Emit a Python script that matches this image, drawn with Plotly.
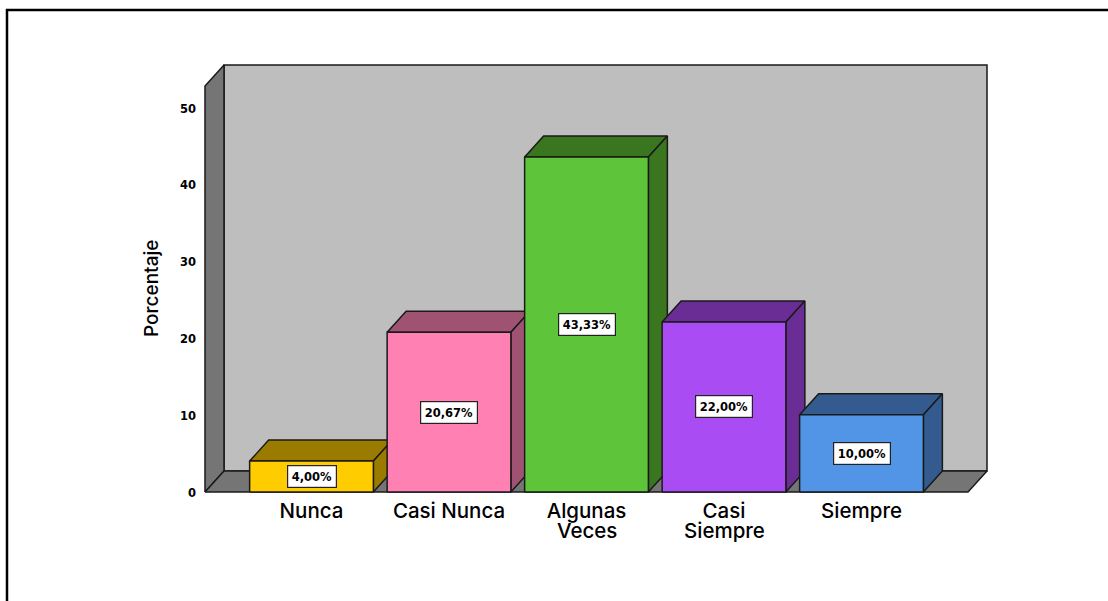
import plotly.graph_objects as go

category_first_line = ["Nunca", "Casi Nunca", "Algunas", "Casi", "Siempre"]
category_second_line = ["", "", "Veces", "Siempre", ""]
values = [4.00, 20.67, 43.33, 22.00, 10.00]
labels = ["4,00%", "20,67%", "43,33%", "22,00%", "10,00%"]
front_colors = ["#FFCC00", "#FF80B3", "#5EC53A", "#AA4CF3", "#5294E6"]
shade_colors = ["#9A7B00", "#A05272", "#3A7620", "#6A2D96", "#335B90"]
y_ticks = [0, 10, 20, 30, 40, 50]

# Chart box in page pixels (L..R, T..B) and a small pad so edge lines are not clipped
L, R, T, B = 205, 987, 65, 492
PAD = 3
PX_PER_CAT = 137.5
PX_PER_UNIT = 7.73      # scale of the bars in the picture
TICK_PX_PER_UNIT = 7.68 # scale of the printed tick labels in the picture
TICK_ZERO_PX = 492.5
X0_PX = 311.5
BAR_W = 0.9
DX = 19 / PX_PER_CAT
DY = 21 / PX_PER_UNIT
XMIN = (L - X0_PX) / PX_PER_CAT
XMAX = (R - X0_PX) / PX_PER_CAT
YMAX = (B - T) / PX_PER_UNIT
FRONT_XMAX = XMAX - DX
FRONT_YMAX = YMAX - DY
EDGE = "#1a1a1a"
PL, PR, PT, PB = L - PAD, R + PAD, T - PAD, B + PAD


def poly(xs, ys, fill, width=1.5):
    return go.Scatter(
        x=xs + xs[:1], y=ys + ys[:1], mode="lines", fill="toself", fillcolor=fill,
        line=dict(color=EDGE, width=width), hoverinfo="skip", showlegend=False,
        cliponaxis=False,
    )


def px(x):
    return (x - PL) / (PR - PL)


def py(y):
    return (PB - y) / (PB - PT)


fig = go.Figure()
# walls
fig.add_trace(poly([XMIN + DX, XMAX, XMAX, XMIN + DX], [DY, DY, YMAX, YMAX], "#BEBEBE"))
fig.add_trace(poly([XMIN, XMIN + DX, XMIN + DX, XMIN], [0, DY, YMAX, FRONT_YMAX], "#757575"))
fig.add_trace(poly([XMIN, FRONT_XMAX, XMAX, XMIN + DX], [0, 0, DY, DY], "#757575"))

# bars: top, side, front
for i, v in enumerate(values):
    a, b = i - BAR_W / 2, i + BAR_W / 2
    fig.add_trace(poly([a, b, b + DX, a + DX], [v, v, v + DY, v + DY], shade_colors[i]))
    fig.add_trace(poly([b, b + DX, b + DX, b], [0, DY, v + DY, v], shade_colors[i]))
    fig.add_trace(poly([a, b, b, a], [0, 0, v, v], front_colors[i]))
    fig.add_annotation(
        x=i, y=v / 2, text="<b>%s</b>" % labels[i], showarrow=False,
        font=dict(family="DejaVu Sans", size=11.5, color="#000000"),
        bgcolor="#FFFFFF", bordercolor="#222222", borderwidth=1.2, borderpad=3.5,
    )

# invisible trace that carries the printed value axis
fig.add_trace(go.Scatter(x=[0] * len(y_ticks), y=y_ticks, yaxis="y2", mode="markers",
                         marker=dict(opacity=0), hoverinfo="skip", showlegend=False))

LABEL_FONT = dict(family="Inter", size=20.5, color="#000000", weight=500)

# second lines of the two-line category labels (tight line spacing)
for i, t in enumerate(category_second_line):
    if t:
        fig.add_annotation(x=i, xref="x", y=py(530.5), yref="paper", text=t, showarrow=False,
                           font=LABEL_FONT, yanchor="middle")

# y axis title
fig.add_annotation(x=px(151), xref="paper", y=py(289), yref="paper", text="Porcentaje",
                   textangle=-90, showarrow=False, xanchor="center", yanchor="middle",
                   font=dict(family="Inter", size=19, color="#000000", weight=500))

# outer frame of the picture
fig.add_shape(type="line", xref="paper", yref="paper", x0=px(6), x1=px(1108), y0=py(10), y1=py(10),
              line=dict(color="#000000", width=2.5))
fig.add_shape(type="line", xref="paper", yref="paper", x0=px(7), x1=px(7), y0=py(9), y1=py(601),
              line=dict(color="#000000", width=2.5))

fig.update_layout(
    width=1108, height=601, paper_bgcolor="#FFFFFF", plot_bgcolor="#FFFFFF",
    margin=dict(l=PL, r=1108 - PR, t=PT, b=601 - PB, pad=0), showlegend=False,
    xaxis=dict(
        range=[XMIN - PAD / PX_PER_CAT, XMAX + PAD / PX_PER_CAT], tickmode="array",
        tickvals=list(range(len(category_first_line))),
        ticktext=category_first_line, showgrid=False, zeroline=False, showline=False, ticks="",
        tickangle=0, tickfont=LABEL_FONT, ticklabelstandoff=1,
    ),
    yaxis=dict(
        range=[-PAD / PX_PER_UNIT, YMAX + PAD / PX_PER_UNIT], showgrid=False, zeroline=False,
        showline=False, ticks="", showticklabels=False,
    ),
    yaxis2=dict(
        overlaying="y", side="left", anchor="x",
        range=[-(PB - TICK_ZERO_PX) / TICK_PX_PER_UNIT, (TICK_ZERO_PX - PT) / TICK_PX_PER_UNIT],
        tickmode="array", tickvals=y_ticks,
        ticktext=["<b>%d</b>" % t for t in y_ticks], showgrid=False, zeroline=False,
        showline=False, ticks="", tickfont=dict(family="DejaVu Sans", size=11.5, color="#000000"),
        ticklabelstandoff=5,
    ),
)

fig.write_html("out.html", config={"displayModeBar": False},
               post_script="document.body.style.margin='0';")
